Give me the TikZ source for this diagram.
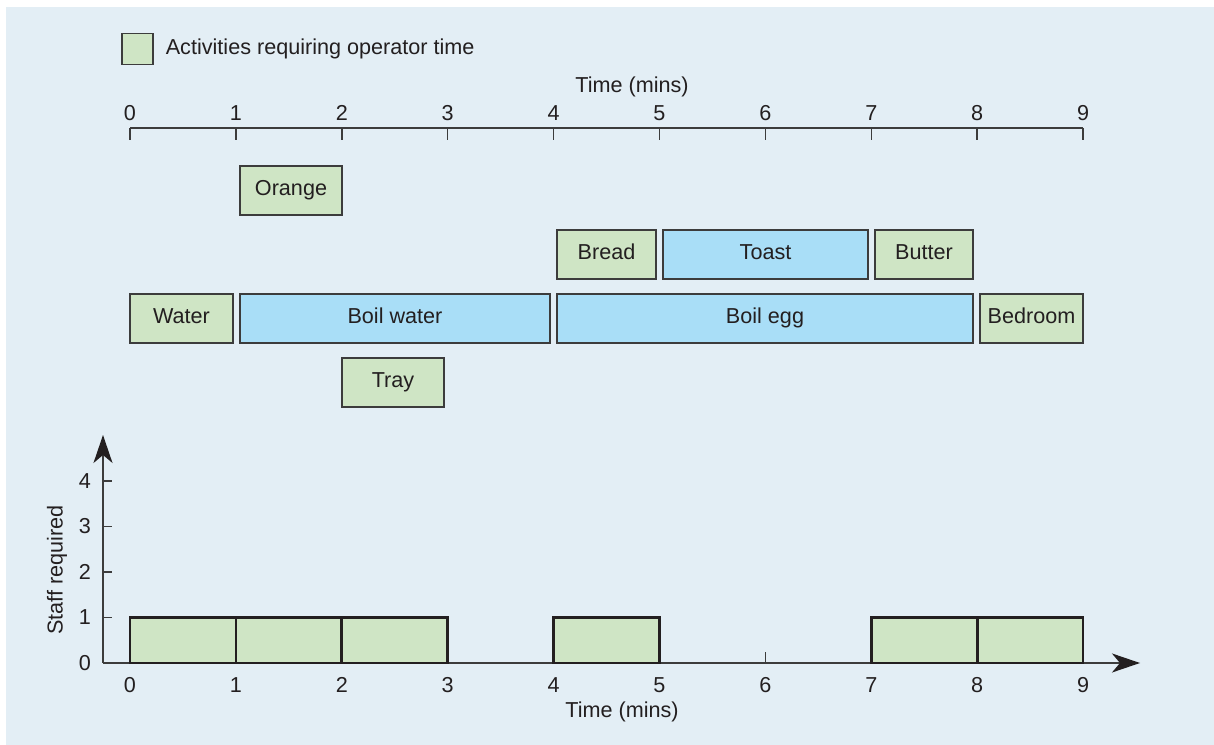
\documentclass[tikz,border=0pt]{standalone}
\usepackage{fontspec}
\setmainfont{Liberation Sans}
\usepackage{tikz}
\usetikzlibrary{arrows.meta, positioning}
\usepackage{xcolor}
\definecolor{PanelBlue}{HTML}{E3EEF5}
\definecolor{OperGreen}{HTML}{CFE5C5}
\definecolor{AutoBlue}{HTML}{A9DEF7}
\definecolor{BoxEdge}{HTML}{3C3C3C}
\definecolor{InkBlack}{HTML}{231F20}
\tikzset{
    % Activity bars
    operbox/.style={
        rectangle,
        draw=BoxEdge,
        fill=OperGreen,
        line width=0.7pt,
        minimum height=0.98cm,
        inner sep=0pt,
        text height=0.72em,
        text depth=0.2em,
        text=InkBlack,
        font=\fontsize{12.3}{14}\selectfont
    },
    autobox/.style={
        operbox,
        fill=AutoBlue
    },
    staffbar/.style={
        draw=InkBlack,
        fill=OperGreen,
        line width=1.5pt
    },
    % Axes
    axisline/.style={
        draw=BoxEdge,
        line width=0.85pt
    },
    axisarrow/.style={
        axisline,
        -{Stealth[length=5.6mm,width=3.8mm,inset=1.6mm,color=InkBlack]}
    },
    ticklabel/.style={
        text=InkBlack,
        font=\fontsize{12.3}{14}\selectfont
    }
}

\begin{document}
\begin{tikzpicture}
    \useasboundingbox (0,0) rectangle (24.28,14.9);
    \fill[PanelBlue] (0.12,0) rectangle (24.3,14.76);

    % legend
    \node[operbox, minimum width=0.62cm, minimum height=0.62cm] (legbox) at (2.75,13.92) {};
    \node[ticklabel, right=0.12cm of legbox] (legtext) {Activities requiring operator time};

    % top time scale
    \node[ticklabel] (toptitle) at (12.64,13.16) {Time (mins)};
    \draw[axisline] (2.6,12.34) -- (21.662,12.34);
    \foreach \t in {0,...,9}{
        \draw[axisline] ({2.6+2.118*\t},12.34) -- ({2.6+2.118*\t},12.1);
        \node[ticklabel] (top\t) at ({2.6+2.118*\t},12.64) {\t};
    }

    % activities
    \node[operbox, minimum width=2.04cm] (orange) at (5.82,11.09) {Orange};
    \node[operbox, minimum width=1.98cm] (bread) at (12.13,9.81) {Bread};
    \node[autobox, minimum width=4.1cm] (toast) at (15.31,9.81) {Toast};
    \node[operbox, minimum width=1.96cm] (butter) at (18.48,9.81) {Butter};
    \node[operbox, minimum width=2.06cm] (water) at (3.63,8.53) {Water};
    \node[autobox, minimum width=6.2cm] (boilwater) at (7.9,8.53) {Boil water};
    \node[autobox, minimum width=8.32cm] (boilegg) at (15.3,8.53) {Boil egg};
    \node[operbox, minimum width=2.06cm] (bedroom) at (20.63,8.53) {Bedroom};
    \node[operbox, minimum width=2.04cm] (tray) at (7.86,7.25) {Tray};

    % staff chart
    \coordinate (origin) at (2.06,1.64);
    \coordinate (ytop) at (2.06,6.2);
    \coordinate (xend) at (22.8,1.64);
    \draw[axisarrow] (origin) -- (ytop);
    \draw[axisarrow] (origin) -- (xend);
    \foreach \k in {1,...,4}{
        \draw[axisline] (2.06,{1.64+0.91*\k}) -- (2.24,{1.64+0.91*\k});
    }
    \foreach \k in {0,...,4}{
        \node[ticklabel] (ylab\k) at (1.7,{1.64+0.91*\k}) {\k};
    }
    \foreach \t in {0,...,9}{
        \draw[axisline] ({2.6+2.118*\t},1.64) -- ({2.6+2.118*\t},1.86);
        \node[ticklabel] (xlab\t) at ({2.6+2.118*\t},1.2) {\t};
    }
    \foreach \t in {0,1,2,4,7,8}{
        \draw[staffbar] ({2.6+2.118*\t},1.64) rectangle ({2.6+2.118*(\t+1)},2.55);
    }
    \node[ticklabel] (bottitle) at (12.44,0.66) {Time (mins)};
    \node[ticklabel, rotate=90] (ytitle) at (1.14,3.5) {Staff required};
\end{tikzpicture}
\end{document}
